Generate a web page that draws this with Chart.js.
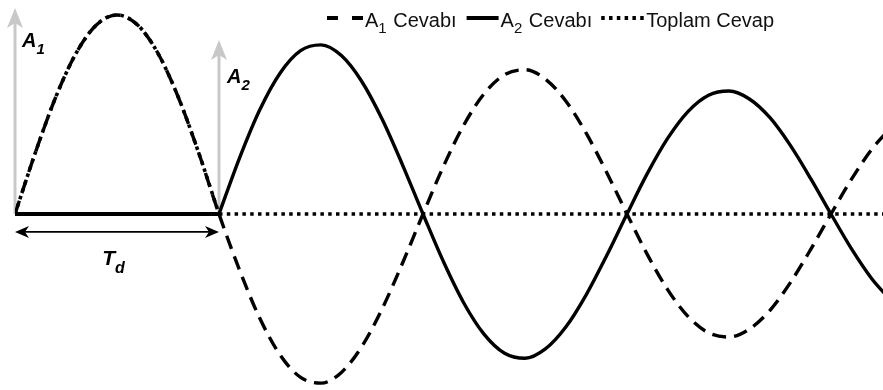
<!DOCTYPE html>
<html>
<head>
<meta charset="utf-8">
<script src="https://cdn.jsdelivr.net/npm/chart.js@4.4.1/dist/chart.umd.min.js"></script>
<style>
  html, body { margin: 0; padding: 0; background: #ffffff; }
  #wrap { width: 883px; height: 390px; position: relative; }
</style>
</head>
<body>
<div id="wrap"><canvas id="chart"></canvas></div>
<script>
// Time in units of the pulse duration Td
const tValues = [
  0, 0.1, 0.2, 0.3, 0.4, 0.5, 0.6, 0.7, 0.8, 0.9,
  1, 1.1, 1.2, 1.3, 1.4, 1.5, 1.6, 1.7, 1.8, 1.9,
  2, 2.1, 2.2, 2.3, 2.4, 2.5, 2.6, 2.7, 2.8, 2.9,
  3, 3.1, 3.2, 3.3, 3.4, 3.5, 3.6, 3.7, 3.8, 3.9,
  4, 4.1, 4.2, 4.3
];

// Response to the first pulse A1 (forced half-sine, then free vibration)
const a1Response = [
  0, 0.309, 0.588, 0.809, 0.951, 1.0, 0.951, 0.809, 0.588, 0.309,
  0, -0.280, -0.524, -0.709, -0.821, -0.850, -0.796, -0.666, -0.476, -0.246,
  0, 0.239, 0.447, 0.605, 0.700, 0.725, 0.678, 0.568, 0.406, 0.210,
  0, -0.204, -0.381, -0.516, -0.597, -0.618, -0.578, -0.485, -0.346, -0.179,
  0, 0.174, 0.325, 0.440
];

// Response to the second pulse A2 (at rest until Td)
const a2Response = [
  0, 0, 0, 0, 0, 0, 0, 0, 0, 0,
  0, 0.280, 0.524, 0.709, 0.821, 0.850, 0.796, 0.666, 0.476, 0.246,
  0, -0.239, -0.447, -0.605, -0.700, -0.725, -0.678, -0.568, -0.406, -0.210,
  0, 0.204, 0.381, 0.516, 0.597, 0.618, 0.578, 0.485, 0.346, 0.179,
  0, -0.174, -0.325, -0.440
];

// Total response A1 + A2
const totalResponse = [
  0, 0.309, 0.588, 0.809, 0.951, 1.0, 0.951, 0.809, 0.588, 0.309,
  0, 0, 0, 0, 0, 0, 0, 0, 0, 0,
  0, 0, 0, 0, 0, 0, 0, 0, 0, 0,
  0, 0, 0, 0, 0, 0, 0, 0, 0, 0,
  0, 0, 0, 0
];

const seriesNames = ['A_{1} Cevabı', 'A_{2} Cevabı', 'Toplam Cevap'];
const pulseLabels = ['A_{1}', 'A_{2}'];
const durationLabel = 'T_{d}';

// Index where the second pulse starts (t = Td)
const onset = tValues.indexOf(1);
const pts = (vals, from, to) => vals.slice(from, to).map((v, i) => ({ x: tValues[from + i], y: v }));

const DASH = [14, 8];
const DOT = [3.5, 4.3];

const datasets = [
  { label: seriesNames[0], legend: true, data: pts(a1Response, 0, tValues.length),
    borderColor: '#000', borderWidth: 3.4, borderDash: DASH },
  { label: seriesNames[1], legend: false, data: pts(a2Response, 0, onset + 1),
    borderColor: '#000', borderWidth: 4 },
  { label: seriesNames[1], legend: true, data: pts(a2Response, onset, tValues.length),
    borderColor: '#000', borderWidth: 3.4 },
  { label: seriesNames[2], legend: false, data: pts(totalResponse, 0, onset + 1),
    borderColor: '#000', borderWidth: 3.6, borderDash: DOT },
  { label: seriesNames[2], legend: true, data: pts(totalResponse, onset, tValues.length),
    borderColor: '#000', borderWidth: 3.6, borderDash: DOT }
].map(d => Object.assign({ pointRadius: 0, fill: false, cubicInterpolationMode: 'monotone', borderCapStyle: 'butt' }, d));

// Text with _{...} subscripts
function richParts(str) {
  const parts = [];
  const re = /_\{([^}]*)\}/g;
  let last = 0, m;
  while ((m = re.exec(str))) {
    if (m.index > last) parts.push({ t: str.slice(last, m.index), sub: false });
    parts.push({ t: m[1], sub: true });
    last = re.lastIndex;
  }
  if (last < str.length) parts.push({ t: str.slice(last), sub: false });
  return parts;
}
function drawRich(ctx, str, x, y, font, subFont, drop, draw = true) {
  let cx = x;
  ctx.textBaseline = 'alphabetic';
  ctx.textAlign = 'left';
  richParts(str).forEach(p => {
    ctx.font = p.sub ? subFont : font;
    if (draw) ctx.fillText(p.t, cx, p.sub ? y + drop : y);
    cx += ctx.measureText(p.t).width + (p.sub ? 1 : 0);
  });
  return cx - x;
}

const FONT = '"Liberation Sans", Arial, sans-serif';

const annotate = {
  id: 'annotate',
  beforeDatasetsDraw(chart) {
    const { ctx, scales: { x, y } } = chart;
    const y0 = y.getPixelForValue(0);
    const arrows = [
      { t: 0, top: 1.035, label: pulseLabels[0], dx: 7, dy: 39 },
      { t: 1, top: 0.874, label: pulseLabels[1], dx: 8, dy: 43 }
    ];
    arrows.forEach(a => {
      const px = x.getPixelForValue(a.t);
      const tip = y.getPixelForValue(a.top);
      ctx.save();
      ctx.strokeStyle = '#c8c8c8';
      ctx.fillStyle = '#c8c8c8';
      ctx.lineWidth = 3;
      ctx.beginPath();
      ctx.moveTo(px, y0);
      ctx.lineTo(px, tip + 12);
      ctx.stroke();
      ctx.beginPath();
      ctx.moveTo(px, tip);
      ctx.lineTo(px - 8, tip + 20);
      ctx.lineTo(px, tip + 15);
      ctx.lineTo(px + 8, tip + 20);
      ctx.closePath();
      ctx.fill();
      ctx.fillStyle = '#000';
      drawRich(ctx, a.label, px + a.dx, tip + a.dy,
        'italic bold 20px ' + FONT, 'italic bold 15px ' + FONT, 7);
      ctx.restore();
    });
  },
  afterDatasetsDraw(chart) {
    const { ctx, scales: { x, y } } = chart;
    // Duration arrow Td
    const xa = x.getPixelForValue(0), xb = x.getPixelForValue(1);
    const ya = y.getPixelForValue(-0.09);
    ctx.save();
    ctx.strokeStyle = '#000';
    ctx.fillStyle = '#000';
    ctx.lineWidth = 1.6;
    ctx.beginPath();
    ctx.moveTo(xa + 4, ya);
    ctx.lineTo(xb - 4, ya);
    ctx.stroke();
    [[xa, 1], [xb, -1]].forEach(([px, dir]) => {
      ctx.beginPath();
      ctx.moveTo(px, ya);
      ctx.lineTo(px + dir * 14, ya - 6);
      ctx.lineTo(px + dir * 10, ya);
      ctx.lineTo(px + dir * 14, ya + 6);
      ctx.closePath();
      ctx.fill();
    });
    const lf = 'italic bold 21px ' + FONT, sf = 'italic bold 16px ' + FONT;
    const w = drawRich(ctx, durationLabel, 0, 0, lf, sf, 8, false);
    drawRich(ctx, durationLabel, (xa + xb) / 2 - w / 2 - 3, ya + 33, lf, sf, 8);

    // Legend
    const items = chart.data.datasets.filter(d => d.legend);
    const sampleLen = [36, 32, 43];
    const gaps = [10, 9, 0];
    let lx = 327;
    const ly = 18;
    items.forEach((d, i) => {
      ctx.strokeStyle = '#000';
      ctx.lineWidth = 4;
      ctx.lineCap = 'butt';
      ctx.setLineDash(i === 0 ? [11, 14] : (d.borderDash || []));
      ctx.beginPath();
      ctx.moveTo(lx, ly);
      ctx.lineTo(lx + sampleLen[i], ly);
      ctx.stroke();
      ctx.setLineDash([]);
      lx += sampleLen[i] + 2;
      ctx.fillStyle = '#111';
      lx += drawRich(ctx, d.label, lx, ly + 9, '20px ' + FONT, '15px ' + FONT, 6) + gaps[i];
    });
    ctx.restore();
  }
};

new Chart(document.getElementById('chart'), {
  type: 'line',
  data: { datasets },
  options: {
    responsive: true,
    maintainAspectRatio: false,
    animation: false,
    devicePixelRatio: 1,
    layout: { padding: { left: 15, right: 0, top: 0, bottom: 0 } },
    plugins: { legend: { display: false }, tooltip: { enabled: false } },
    scales: {
      x: { type: 'linear', min: 0, max: 4.255, display: false },
      y: { type: 'linear', min: -0.8844, max: 1.0754, display: false }
    }
  },
  plugins: [annotate]
});
</script>
</body>
</html>
